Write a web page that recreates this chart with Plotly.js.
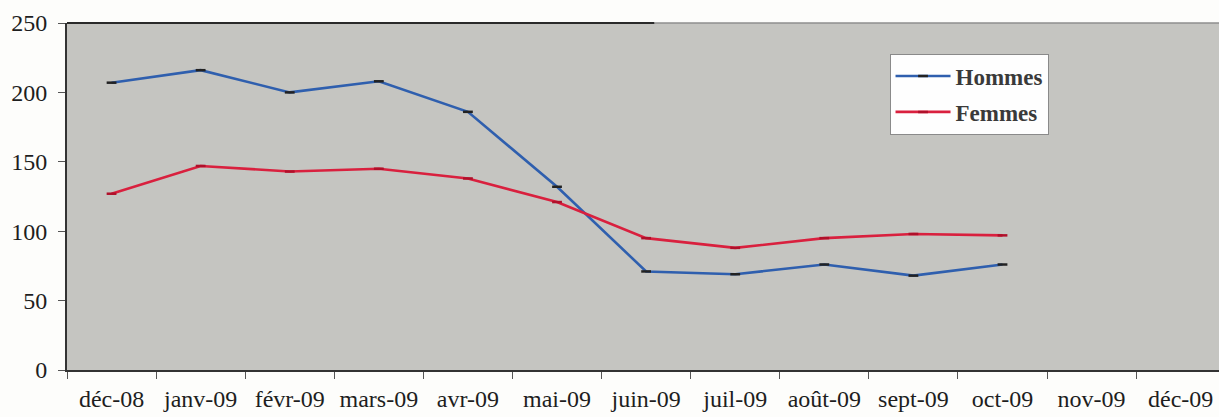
<!DOCTYPE html>
<html>
<head>
<meta charset="utf-8">
<script src="https://cdn.plot.ly/plotly-3.0.1.min.js"></script>
<style>html,body{margin:0;padding:0;background:#fdfdfb;}#chart{width:1219px;height:417px;}</style>
</head>
<body>
<div id="chart"></div>
<script>
const months = ["déc-08","janv-09","févr-09","mars-09","avr-09","mai-09","juin-09","juil-09","août-09","sept-09","oct-09","nov-09","déc-09"];
const hommes = [207,216,200,208,186,132,71,69,76,68,76,null,null];
const femmes = [127,147,143,145,138,121,95,88,95,98,97,null,null];
const yTicks = [0,50,100,150,200,250];

const serif = "Liberation Serif";

const traces = [
  {x: months, y: hommes, name: "Hommes", type: "scatter", mode: "lines+markers",
   legendgroup: "h",
   line: {color: "#2f5fae", width: 2.6},
   marker: {symbol: "line-ew", size: 7, line: {color: "#222", width: 2.5}}},
  {x: months, y: femmes, name: "Femmes", type: "scatter", mode: "lines+markers",
   legendgroup: "f",
   line: {color: "#d9203e", width: 2.6},
   marker: {symbol: "line-ew", size: 7, line: {color: "#b0102a", width: 2.5}}}
];

const layout = {
  width: 1219, height: 417,
  margin: {l: 67, r: 0, t: 23, b: 47, pad: 0},
  paper_bgcolor: "#fdfdfb",
  plot_bgcolor: "#c5c5c1",
  showlegend: true,
  font: {family: serif},
  legend: {x: 0.714, y: 0.912, xanchor: "left", yanchor: "top",
           bgcolor: "#fefefe", bordercolor: "#8a8a8a", borderwidth: 1,
           font: {family: serif, size: 23, color: "#3a3a3a", weight: "bold"},
           tracegroupgap: 3, itemwidth: 55},
  xaxis: {type: "category", categoryarray: months, range: [-0.5, 12.43],
          tickson: "boundaries", ticks: "outside", ticklen: 7, tickwidth: 1, tickcolor: "#555",
          showline: true, linecolor: "#333", linewidth: 2, showgrid: false, zeroline: false,
          ticklabelstandoff: 6,
          tickfont: {family: serif, size: 24, color: "#1e1e1e"}},
  yaxis: {range: [0, 250], tickvals: yTicks, ticktext: yTicks.map(String),
          ticks: "outside", ticklen: 7, tickwidth: 1, tickcolor: "#555",
          showline: true, linecolor: "#333", linewidth: 2, showgrid: false, zeroline: false,
          ticklabelstandoff: 6,
          tickfont: {family: serif, size: 24, color: "#1e1e1e"}},
  shapes: [
    {type: "line", xref: "paper", yref: "paper", x0: 0, x1: 0.51, y0: 1, y1: 1,
     line: {color: "#2a2a2a", width: 2}},
    {type: "line", xref: "paper", yref: "paper", x0: 0.51, x1: 1, y0: 1, y1: 1,
     line: {color: "#8e8e8e", width: 1.5}}
  ]
};

Plotly.newPlot("chart", traces, layout, {displayModeBar: false, staticPlot: true});
</script>
</body>
</html>
